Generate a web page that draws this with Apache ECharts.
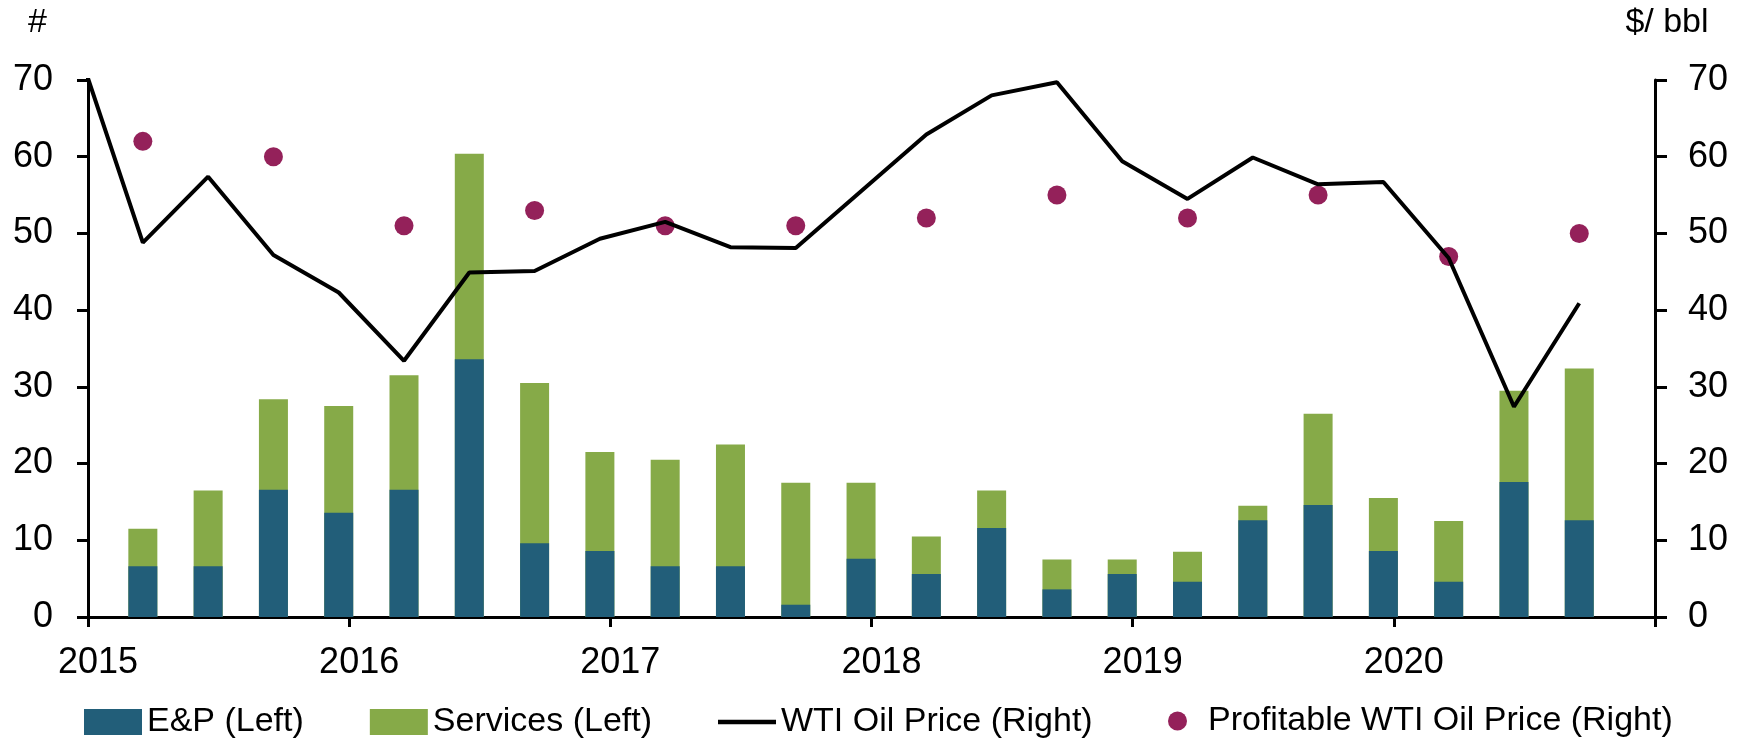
<!DOCTYPE html>
<html>
<head>
<meta charset="utf-8">
<script src="https://cdn.jsdelivr.net/npm/echarts@6/dist/echarts.min.js"></script>
<style>
  html, body { margin: 0; padding: 0; background: #fff; }
  #chart { width: 1748px; height: 739px; }
</style>
</head>
<body>
<div id="chart"></div>
<script>
// quarterly data, Q1 2015 .. Q3 2020
const quarters = [
  "2015Q1", "2015Q2", "2015Q3", "2015Q4",
  "2016Q1", "2016Q2", "2016Q3", "2016Q4",
  "2017Q1", "2017Q2", "2017Q3", "2017Q4",
  "2018Q1", "2018Q2", "2018Q3", "2018Q4",
  "2019Q1", "2019Q2", "2019Q3", "2019Q4",
  "2020Q1", "2020Q2", "2020Q3",
];
const epCount = [6.6, 6.6, 16.6, 13.6, 16.6, 33.6, 9.6, 8.6, 6.6, 6.6, 1.6, 7.6,
  5.6, 11.6, 3.6, 5.6, 4.6, 12.6, 14.6, 8.6, 4.6, 17.6, 12.6];
const servicesCount = [4.9, 9.9, 11.8, 13.9, 14.9, 26.8, 20.9, 12.9, 13.9, 15.9, 15.9, 9.9,
  4.9, 4.9, 3.9, 1.9, 3.9, 1.9, 11.9, 6.9, 7.9, 11.9, 19.8];

// WTI line starts one quarter earlier (clipped at the left edge)
const wtiQuarters = ["2014Q4"].concat(quarters);
const wtiPrice = [74.3, 48.8, 57.4, 47.2, 42.3, 33.4, 44.9, 45.1, 49.3, 51.5, 48.2, 48.1,
  55.5, 62.9, 68.0, 69.7, 59.4, 54.5, 59.9, 56.4, 56.7, 46.8, 27.4, 40.9];

const profitableQuarters = ["2015Q1", "2015Q3", "2016Q1", "2016Q3", "2017Q1", "2017Q3",
  "2018Q1", "2018Q3", "2019Q1", "2019Q3", "2020Q1", "2020Q3"];
const profitablePrice = [62, 60, 51, 53, 51, 51, 52, 55, 52, 55, 47, 50];

const yearTicks = [2015, 2016, 2017, 2018, 2019, 2020];

// quarter label -> position on the year axis
function qx(q) {
  const y = +q.slice(0, 4);
  const n = +q.slice(5);
  return y + (n - 1) / 4 + 0.21;
}

const FONT = "Liberation Sans";
const chart = echarts.init(document.getElementById("chart"));

// stacking on a value x axis is awkward, so the services bar is drawn
// to the stack total and the E&P bar is laid over its lower part
const stackTop = epCount.map((v, i) => v + servicesCount[i]);

const option = {
  animation: false,
  backgroundColor: "#fff",
  textStyle: { fontFamily: FONT, color: "#000" },
  grid: { left: 88, right: 93, top: 80, bottom: 122, containLabel: false, outerBoundsMode: "none" },
  legend: [
    {
      left: 79,
      top: 700,
      itemWidth: 58,
      itemHeight: 26,
      itemGap: 66,
      textStyle: { fontFamily: FONT, fontSize: 34, color: "#000" },
      data: [
        { name: "E&P (Left)", icon: "rect" },
        { name: "Services (Left)", icon: "rect" },
        { name: "WTI Oil Price (Right)", icon: "path://M0,0L54,0L54,4L0,4Z" },
      ],
    },
    {
      left: 1163,
      top: 699,
      itemWidth: 19,
      itemHeight: 19,
      textStyle: { fontFamily: FONT, fontSize: 34, color: "#000", padding: [0, 0, 0, 16] },
      data: [{ name: "Profitable WTI Oil Price (Right)", icon: "circle" }],
    },
  ],
  xAxis: {
    type: "value",
    min: 2015,
    max: 2021,
    interval: 1,
    splitLine: { show: false },
    axisLine: { show: true, onZero: false, lineStyle: { color: "#000", width: 3 } },
    axisTick: { show: true, length: 10, lineStyle: { color: "#000", width: 3 } },
    axisLabel: {
      fontFamily: FONT,
      fontSize: 36,
      color: "#000",
      margin: 28,
      padding: [0, 0, 0, 20],
      formatter: (v) => (yearTicks.indexOf(v) >= 0 ? String(v) : ""),
    },
  },
  yAxis: [
    {
      type: "value",
      min: 0,
      max: 70,
      interval: 10,
      name: "#",
      nameLocation: "end",
      nameGap: 40,
      nameTextStyle: { fontFamily: FONT, fontSize: 34, color: "#000", align: "right", padding: [0, 41, 0, 0] },
      splitLine: { show: false },
      axisLine: { show: true, lineStyle: { color: "#000", width: 3 } },
      axisTick: { show: true, length: 11, lineStyle: { color: "#000", width: 3 } },
      axisLabel: { fontFamily: FONT, fontSize: 36, color: "#000", margin: 35 },
    },
    {
      type: "value",
      min: 0,
      max: 70,
      interval: 10,
      position: "right",
      name: "$/ bbl",
      nameLocation: "end",
      nameGap: 40,
      nameTextStyle: { fontFamily: FONT, fontSize: 34, color: "#000", align: "center", padding: [0, 0, 0, 24] },
      splitLine: { show: false },
      axisLine: { show: true, lineStyle: { color: "#000", width: 3 } },
      axisTick: { show: true, length: 12, lineStyle: { color: "#000", width: 3 } },
      axisLabel: { fontFamily: FONT, fontSize: 36, color: "#000", margin: 33 },
    },
  ],
  series: [
    {
      name: "Services (Left)",
      type: "bar",
      yAxisIndex: 0,
      barWidth: 29,
      barGap: "-100%",
      itemStyle: { color: "#86AA48" },
      data: quarters.map((q, i) => [qx(q), stackTop[i]]),
    },
    {
      name: "E&P (Left)",
      type: "bar",
      yAxisIndex: 0,
      barWidth: 29,
      barGap: "-100%",
      itemStyle: { color: "#225E79" },
      data: quarters.map((q, i) => [qx(q), epCount[i]]),
    },
    {
      name: "WTI Oil Price (Right)",
      type: "line",
      yAxisIndex: 1,
      symbol: "none",
      clip: true,
      lineStyle: { color: "#000", width: 4 },
      itemStyle: { color: "#000" },
      data: wtiQuarters.map((q, i) => [qx(q), wtiPrice[i]]),
    },
    {
      name: "Profitable WTI Oil Price (Right)",
      type: "scatter",
      yAxisIndex: 1,
      symbolSize: 19,
      itemStyle: { color: "#94215A", opacity: 1 },
      data: profitableQuarters.map((q, i) => [qx(q), profitablePrice[i]]),
    },
  ],
};

chart.setOption(option);
</script>
</body>
</html>
